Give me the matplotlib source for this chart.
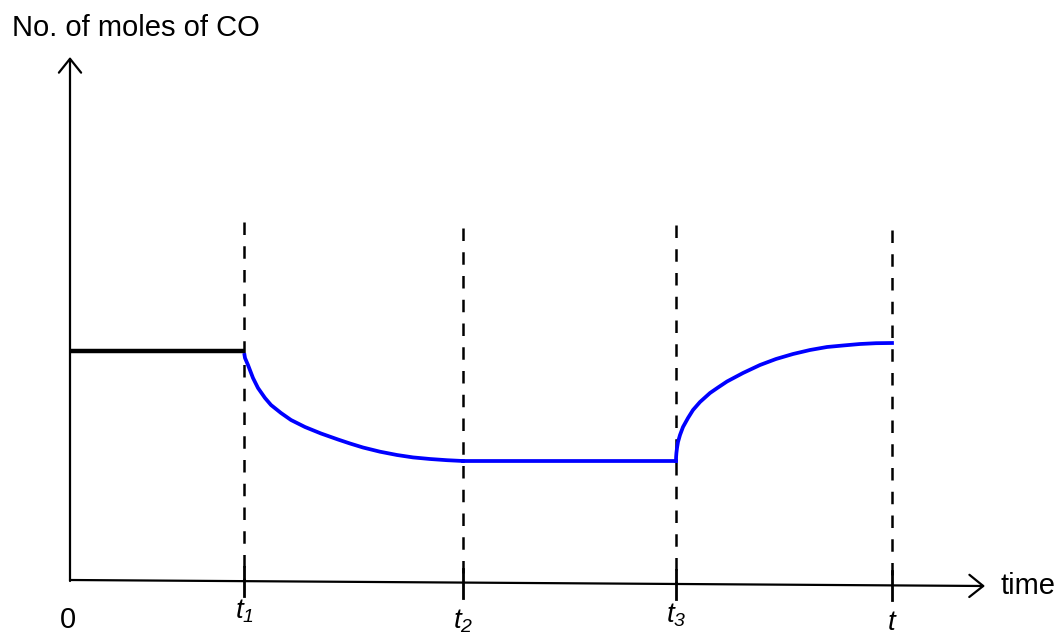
#!/usr/bin/env python3
"""
No. of moles of CO vs time sketch (equilibrium disturbed at t1 and t3)
"""

import matplotlib
matplotlib.use("Agg")
import matplotlib.pyplot as plt

plt.rcParams['font.family'] = ['Liberation Sans', 'DejaVu Sans']
plt.rcParams['mathtext.fontset'] = 'custom'
plt.rcParams['mathtext.rm'] = 'Liberation Sans:italic'
plt.rcParams['mathtext.it'] = 'Liberation Sans:italic'

# time marks (arbitrary units) and their labels
tick_times = [1.74, 3.93, 6.06, 8.22]
tick_labels = [r'$t_{1}$', r'$t_{2}$', r'$t_{3}$', r'$t$']
tick_label_y = [-0.31, -0.41, -0.35, -0.43]

# initial equilibrium (black)
start_time = [0.0, 1.74]
start_moles = [2.29, 2.29]

# after t1: CO falls to a new equilibrium
fall_time = [1.745, 1.75, 1.78, 1.83, 1.88, 1.95, 2.01, 2.11, 2.21, 2.35,
             2.51, 2.68, 2.80, 2.93, 3.10, 3.27, 3.43, 3.60, 3.77, 3.93]
fall_moles = [2.25, 2.22, 2.15, 2.02, 1.92, 1.82, 1.75, 1.67, 1.60, 1.53,
              1.465, 1.405, 1.365, 1.325, 1.283, 1.25, 1.226, 1.21, 1.198, 1.19]

# t2 -> t3: constant
flat_time = [3.93, 6.06]
flat_moles = [1.19, 1.19]

# after t3: CO rises again
rise_time = [6.06, 6.061, 6.064, 6.07, 6.08, 6.10, 6.13, 6.18, 6.23, 6.30, 6.40,
             6.48, 6.57, 6.73, 6.90, 7.06, 7.23, 7.40, 7.57, 7.73, 7.90, 8.06, 8.22]
rise_moles = [1.19, 1.23, 1.27, 1.32, 1.38, 1.45, 1.53, 1.62, 1.70, 1.78, 1.87,
              1.925, 1.985, 2.07, 2.15, 2.21, 2.26, 2.30, 2.33, 2.345, 2.36, 2.368, 2.37]

# the time axis is drawn with a slight downward slope
axis_end = (9.15, -0.06)
dash_top = [3.58, 3.52, 3.55, 3.50]

fig = plt.figure(figsize=(10.58, 6.37), dpi=100)
ax = fig.add_axes([0, 0, 1, 1])
ax.set_xlim(-0.70, 9.88)
ax.set_ylim(-0.57, 5.80)
ax.axis('off')

# axes with open arrow heads
arrow = dict(arrowstyle='->,head_length=0.5,head_width=0.4', color='black',
             lw=1.6, mutation_scale=20, shrinkA=0, shrinkB=0)
ax.annotate('', xy=(0, 5.23), xytext=(0, -0.01), arrowprops=arrow)
ax.annotate('', xy=axis_end, xytext=(0, 0.0), arrowprops=arrow)

slope = axis_end[1] / axis_end[0]
for t, top, lab, ly in zip(tick_times, dash_top, tick_labels, tick_label_y):
    base = slope * t
    ax.plot([t, t], [top, base], color='black', lw=1.8, ls=(0, (5, 4.5)))
    ax.plot([t, t], [base - 0.15, base + 0.14], color='black', lw=2.0)
    ax.text(t, ly, lab, ha='center', va='center', fontsize=20)

ax.plot(start_time, start_moles, color='black', lw=3.2, solid_capstyle='butt')
ax.plot(fall_time, fall_moles, color='#0000ff', lw=2.7)
ax.plot(flat_time, flat_moles, color='#0000ff', lw=2.7)
ax.plot(rise_time, rise_moles, color='#0000ff', lw=2.7)

ax.text(-0.58, 5.52, 'No. of moles of CO', ha='left', va='center', fontsize=21)
ax.text(9.30, -0.06, 'time', ha='left', va='center', fontsize=21)
ax.text(-0.02, -0.40, '0', ha='center', va='center', fontsize=21)

plt.savefig('out.png', dpi=100)
